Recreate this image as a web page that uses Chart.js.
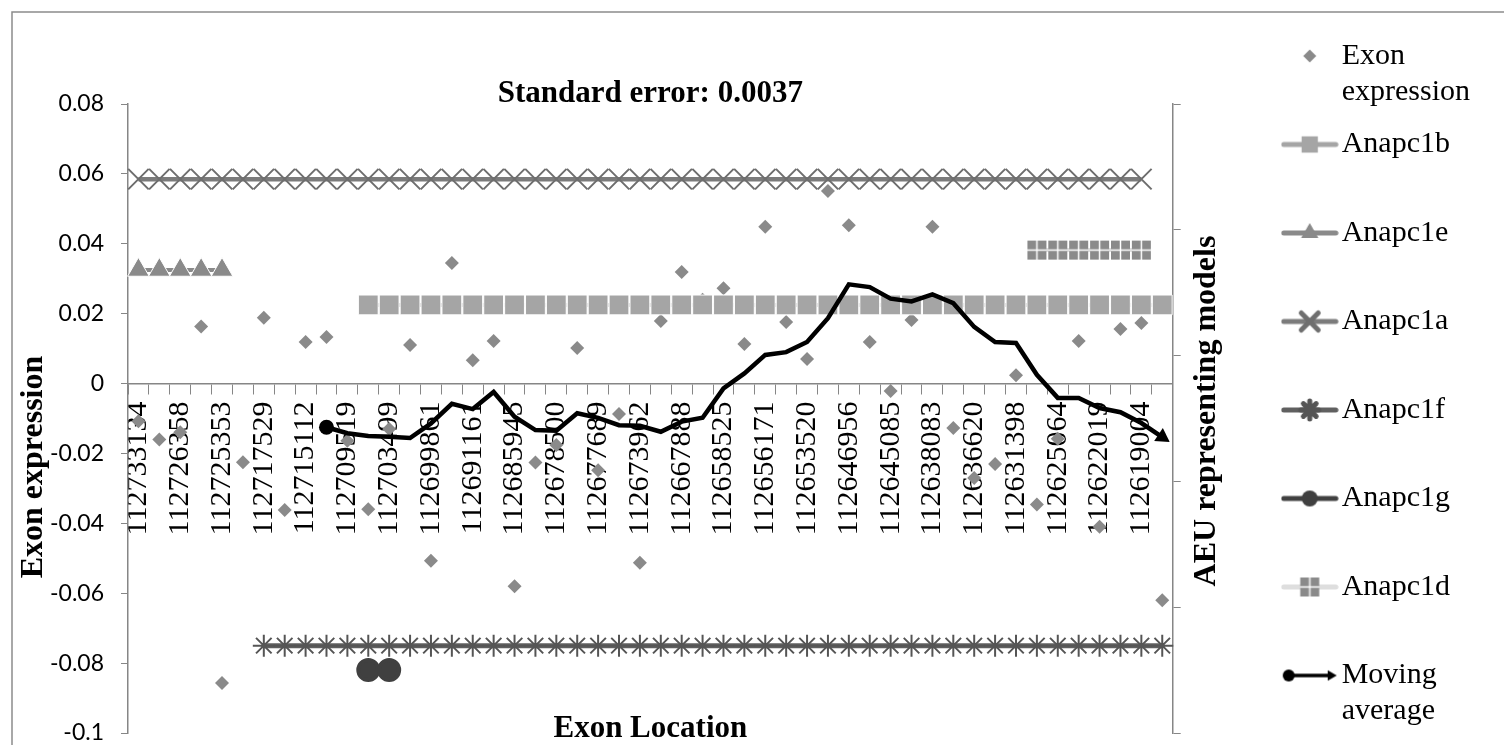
<!DOCTYPE html>
<html>
<head>
<meta charset="utf-8">
<title>Exon expression along Anapc1</title>
<script src="https://cdn.jsdelivr.net/npm/chart.js"></script>
<style>
  body { margin: 0; background: #fff; }
</style>
</head>
<body>
<canvas id="chart" width="1504" height="745"></canvas>

<script>
    const N = null;

    // Exon locations (Excel printed only every second one)
    const locations = [
        '112733134', '', '112726358', '', '112725353', '', '112717529', '', '112715112', '',
        '112709519', '', '112703499', '', '112699861', '', '112691161', '', '112685945', '',
        '112678500', '', '112677689', '', '112673962', '', '112667888', '', '112658525', '',
        '112656171', '', '112653520', '', '112646956', '', '112645085', '', '112638083', '',
        '112636620', '', '112631398', '', '112625064', '', '112622019', '', '112619004', ''
    ];

    const exonExpression = [
        -0.0108, -0.0160, -0.0139,  0.0163, -0.0857, -0.0225,  0.0188, -0.0362,  0.0119,  0.0133,
        -0.0164, -0.0360, -0.0130,  0.0110, -0.0507,  0.0345,  0.0067,  0.0122, -0.0580, -0.0226,
        -0.0176,  0.0102, -0.0248, -0.0087, -0.0513,  0.0179,  0.0319,  0.0240,  0.0273,  0.0113,
         0.0449,  0.0176,  0.0070,  0.0551,  0.0453,  0.0119, -0.0021,  0.0182,  0.0449, -0.0127,
        -0.0270, -0.0230,  0.0024, -0.0346, -0.0158,  0.0122, -0.0410,  0.0156,  0.0173, -0.0620
    ];

    const movingAverage = [
        N, N, N, N, N, N, N, N, N, -0.0125,
        -0.0142, -0.0150, -0.0152, -0.0156, -0.0114, -0.0058, -0.0073, -0.0024, -0.0095, -0.0133,
        -0.0135, -0.0085, -0.0098, -0.0119, -0.0121, -0.0138, -0.0109, -0.0098, -0.0014,  0.0029,
         0.0082,  0.0090,  0.0119,  0.0187,  0.0284,  0.0276,  0.0243,  0.0235,  0.0255,  0.0230,
         0.0162,  0.0119,  0.0116,  0.0025, -0.0041, -0.0041, -0.0070, -0.0082, -0.0113, -0.0153
    ];

    // AEU representing models: the exons each model covers
    const anapc1b = [
        N, N, N, N, N, N, N, N, N, N,
        N, 0.0225, 0.0225, 0.0225, 0.0225, 0.0225, 0.0225, 0.0225, 0.0225, 0.0225,
        0.0225, 0.0225, 0.0225, 0.0225, 0.0225, 0.0225, 0.0225, 0.0225, 0.0225, 0.0225,
        0.0225, 0.0225, 0.0225, 0.0225, 0.0225, 0.0225, 0.0225, 0.0225, 0.0225, 0.0225,
        0.0225, 0.0225, 0.0225, 0.0225, 0.0225, 0.0225, 0.0225, 0.0225, 0.0225, 0.0225
    ];
    const anapc1e = [
        0.0325, 0.0325, 0.0325, 0.0325, 0.0325, N, N, N, N, N,
        N, N, N, N, N, N, N, N, N, N,
        N, N, N, N, N, N, N, N, N, N,
        N, N, N, N, N, N, N, N, N, N,
        N, N, N, N, N, N, N, N, N, N
    ];
    const anapc1a = [
        0.0585, 0.0585, 0.0585, 0.0585, 0.0585, 0.0585, 0.0585, 0.0585, 0.0585, 0.0585,
        0.0585, 0.0585, 0.0585, 0.0585, 0.0585, 0.0585, 0.0585, 0.0585, 0.0585, 0.0585,
        0.0585, 0.0585, 0.0585, 0.0585, 0.0585, 0.0585, 0.0585, 0.0585, 0.0585, 0.0585,
        0.0585, 0.0585, 0.0585, 0.0585, 0.0585, 0.0585, 0.0585, 0.0585, 0.0585, 0.0585,
        0.0585, 0.0585, 0.0585, 0.0585, 0.0585, 0.0585, 0.0585, 0.0585, 0.0585, N
    ];
    const anapc1f = [
        N, N, N, N, N, N, -0.075, -0.075, -0.075, -0.075,
        -0.075, -0.075, -0.075, -0.075, -0.075, -0.075, -0.075, -0.075, -0.075, -0.075,
        -0.075, -0.075, -0.075, -0.075, -0.075, -0.075, -0.075, -0.075, -0.075, -0.075,
        -0.075, -0.075, -0.075, -0.075, -0.075, -0.075, -0.075, -0.075, -0.075, -0.075,
        -0.075, -0.075, -0.075, -0.075, -0.075, -0.075, -0.075, -0.075, -0.075, -0.075
    ];
    const anapc1g = [
        N, N, N, N, N, N, N, N, N, N,
        N, -0.082, -0.082, N, N, N, N, N, N, N,
        N, N, N, N, N, N, N, N, N, N,
        N, N, N, N, N, N, N, N, N, N,
        N, N, N, N, N, N, N, N, N, N
    ];
    const anapc1d = [
        N, N, N, N, N, N, N, N, N, N,
        N, N, N, N, N, N, N, N, N, N,
        N, N, N, N, N, N, N, N, N, N,
        N, N, N, N, N, N, N, N, N, N,
        N, N, N, 0.0382, 0.0382, 0.0382, 0.0382, 0.0382, 0.0382, N
    ];

    const yTicks = { min: -0.1, max: 0.08, step: 0.02 };

    const H = Chart.helpers;
    const axisGray = '#868686';
    const serif = 'Liberation Serif';

    // grey square with a white cross, used for Anapc1d
    const crossBox = document.createElement('canvas');
    crossBox.width = crossBox.height = 21;
    (function () {
        const g = crossBox.getContext('2d');
        g.fillStyle = '#8a8a8a';
        g.fillRect(1, 1, 19, 19);
        g.strokeStyle = '#fff';
        g.lineWidth = 1.5;
        g.beginPath();
        g.moveTo(10.5, 1); g.lineTo(10.5, 20);
        g.moveTo(1, 10.5); g.lineTo(20, 10.5);
        g.stroke();
    })();

    // little line + marker pictures for the legend
    function legendIcon(lineColor, lineWidth, markers, x0 = 3, x1 = 55) {
        const c = document.createElement('canvas');
        c.width = 58; c.height = 28;
        const g = c.getContext('2d');
        if (lineColor) {
            g.strokeStyle = lineColor;
            g.lineWidth = lineWidth;
            g.lineCap = 'round';
            g.beginPath(); g.moveTo(x0, 14); g.lineTo(x1, 14); g.stroke();
        }
        markers.forEach(m => {
            g.fillStyle = m.fill || 'rgba(0,0,0,0)';
            g.strokeStyle = m.stroke || m.fill;
            H.drawPoint(g, { pointStyle: m.style, radius: m.radius || 1, rotation: m.rotation || 0, borderWidth: m.width || 0 }, m.x || 29, 14);
        });
        return c;
    }

    const legendText = {
        'Exon expression': ['Exon', 'expression'],
        'Moving average': ['Moving', 'average']
    };
    const legendIcons = {
        'Exon expression': legendIcon(null, 0, [{ style: 'rectRot', radius: 6.5, fill: '#8a8a8a' }]),
        'Anapc1b': legendIcon('#a5a5a5', 5, [{ style: 'rect', radius: 11.5, fill: '#a5a5a5' }]),
        'Anapc1e': legendIcon('#8a8a8a', 5, [{ style: 'triangle', radius: 10, fill: '#8a8a8a' }]),
        'Anapc1a': legendIcon('#7b7b7b', 5, [{ style: 'crossRot', radius: 12, stroke: '#6e6e6e', width: 1.5 }]),
        'Anapc1f': legendIcon('#606060', 5, [{ style: 'star', radius: 9, stroke: '#555', width: 1.5 }]),
        'Anapc1g': legendIcon('#404040', 5, [{ style: 'circle', radius: 8, fill: '#404040' }]),
        'Anapc1d': legendIcon('#dedede', 5, [{ style: crossBox }]),
        'Moving average': legendIcon('#000', 3.5, [
            { style: 'circle', radius: 6, fill: '#000', x: 8 },
            { style: 'triangle', radius: 6, fill: '#000', rotation: 90, x: 50 }
        ], 8, 48)
    };

    const maFirst = movingAverage.findIndex(v => v !== null);
    const maLast = movingAverage.length - 1;

    // frame of the chart area and the two rotated axis titles
    const decorations = {
        id: 'decorations',
        beforeDraw(chart) {
            const ctx = chart.ctx;
            ctx.save();
            ctx.strokeStyle = '#8c8c8c';
            ctx.lineWidth = 1.5;
            ctx.beginPath();
            ctx.moveTo(12, chart.height);
            ctx.lineTo(12, 12);
            ctx.lineTo(chart.width, 12);
            ctx.stroke();
            ctx.restore();
        },
        afterDraw(chart) {
            const { ctx, chartArea } = chart;
            ctx.save();
            ctx.font = 'bold 32px "' + serif + '"';
            ctx.fillStyle = '#000';
            ctx.textAlign = 'center';
            ctx.textBaseline = 'middle';
            [['Exon expression', chartArea.left - 94, 467], ['AEU representing models', chartArea.right + 34, 411]].forEach(([t, x, y]) => {
                ctx.save();
                ctx.translate(x, y);
                ctx.rotate(-Math.PI / 2);
                ctx.fillText(t, 0, 0);
                ctx.restore();
            });
            ctx.restore();
        }
    };

    const ctx = document.getElementById('chart').getContext('2d');
    new Chart(ctx, {
        type: 'line',
        data: {
            labels: locations,
            datasets: [
                {
                    label: 'Exon expression', data: exonExpression, order: 7,
                    showLine: false, pointStyle: 'rectRot', pointRadius: 7,
                    backgroundColor: '#8a8a8a', borderColor: '#8a8a8a', pointBorderWidth: 0
                },
                {
                    label: 'Anapc1b', data: anapc1b, order: 6,
                    borderColor: '#a5a5a5', borderWidth: 4, pointStyle: 'rect', pointRadius: 14,
                    pointBackgroundColor: '#a5a5a5', pointBorderColor: '#fff', pointBorderWidth: 1
                },
                {
                    label: 'Anapc1e', data: anapc1e, order: 5,
                    borderColor: '#8a8a8a', borderWidth: 4, pointStyle: 'triangle', pointRadius: 12.5,
                    pointBackgroundColor: '#8a8a8a', pointBorderColor: '#fff', pointBorderWidth: 1
                },
                {
                    label: 'Anapc1a', data: anapc1a, order: 4,
                    borderColor: '#7b7b7b', borderWidth: 4.5, pointStyle: 'crossRot', pointRadius: 14.5,
                    pointBorderColor: '#6e6e6e', pointBorderWidth: 2
                },
                {
                    label: 'Anapc1f', data: anapc1f, order: 3,
                    borderColor: '#606060', borderWidth: 5, pointStyle: 'star', pointRadius: 11,
                    pointBorderColor: '#555', pointBorderWidth: 2
                },
                {
                    label: 'Anapc1g', data: anapc1g, order: 1,
                    borderColor: '#404040', borderWidth: 4, pointStyle: 'circle', pointRadius: 10,
                    pointBackgroundColor: '#404040', pointBorderColor: '#404040'
                },
                {
                    label: 'Anapc1d', data: anapc1d, order: 2,
                    borderColor: '#dedede', borderWidth: 4, pointStyle: crossBox, pointRadius: 10
                },
                {
                    label: 'Moving average', data: movingAverage, order: 0,
                    borderColor: '#000', backgroundColor: '#000', borderWidth: 4.5,
                    pointBorderWidth: 0,
                    pointRadius: c => (c.dataIndex === maFirst ? 7.5 : c.dataIndex === maLast ? 9 : 0),
                    pointStyle: c => (c.dataIndex === maLast ? 'triangle' : 'circle'),
                    pointRotation: c => {
                        if (c.dataIndex !== maLast) return 0;
                        const sx = c.chart.scales.x, sy = c.chart.scales.y;
                        const dx = sx.getPixelForValue(maLast) - sx.getPixelForValue(maLast - 1);
                        const dy = sy.getPixelForValue(movingAverage[maLast]) - sy.getPixelForValue(movingAverage[maLast - 1]);
                        return Math.atan2(dy, dx) * 180 / Math.PI + 90;
                    }
                }
            ]
        },
        options: {
            responsive: false,
            animation: false,
            events: [],
            layout: { autoPadding: false, padding: { left: 12, right: 24, top: 24.5, bottom: -5 } },
            elements: { line: { tension: 0 } },
            scales: {
                x: {
                    position: { y: 0 },
                    offset: true,
                    grid: { offset: true, drawOnChartArea: false, tickLength: 10, color: axisGray },
                    border: { color: axisGray, width: 1.5 },
                    ticks: {
                        autoSkip: false, minRotation: 90, maxRotation: 90, padding: 8,
                        font: { family: serif, size: 30 }, color: '#000'
                    }
                },
                x2: {
                    type: 'category',
                    position: 'bottom',
                    grid: { display: false, drawTicks: false },
                    border: { display: false },
                    ticks: { display: false },
                    title: {
                        display: true, text: 'Exon Location', color: '#000',
                        font: { family: serif, size: 31, weight: 'bold', lineHeight: 1 },
                        padding: { top: 0, bottom: 6 }
                    },
                    afterFit: s => { s.height = 17; }
                },
                y: {
                    min: yTicks.min, max: yTicks.max,
                    ticks: {
                        stepSize: yTicks.step, padding: 17, color: '#000',
                        font: { family: 'Lato', size: 23 },
                        callback: v => String(+v.toFixed(2))
                    },
                    grid: { drawOnChartArea: false, tickLength: 7, color: axisGray },
                    border: { color: axisGray, width: 1.5 },
                    // fixed width; the end labels may hang over the plot edges
                    afterFit: s => { s.width = 116; s.paddingTop = 0; s.paddingBottom = 0; }
                },
                y2: {
                    position: 'right',
                    min: 0, max: 5,
                    ticks: { stepSize: 1, display: false },
                    grid: { drawOnChartArea: false, tickLength: 8, color: axisGray },
                    border: { color: axisGray, width: 1.5 },
                    afterFit: s => { s.width = 103.5; }
                }
            },
            plugins: {
                tooltip: { enabled: false },
                title: {
                    display: true, fullSize: false,
                    text: 'Standard error: 0.0037', color: '#000',
                    font: { family: serif, size: 31, weight: 'bold', lineHeight: '20px' },
                    padding: { top: 59.5, bottom: 0 }
                },
                legend: {
                    position: 'right',
                    align: 'start',
                    labels: {
                        usePointStyle: true,
                        pointStyleWidth: 34,
                        padding: 16.5,
                        color: '#000',
                        font: { family: serif, size: 30, lineHeight: 1.2 },
                        generateLabels: chart => chart.data.datasets.map((ds, i) => ({
                            text: legendText[ds.label] || [ds.label, ''],
                            pointStyle: legendIcons[ds.label],
                            datasetIndex: i,
                            fontColor: '#000',
                            lineWidth: 0,
                            hidden: false
                        }))
                    }
                }
            }
        },
        plugins: [decorations]
    });
</script>
</body>
</html>
